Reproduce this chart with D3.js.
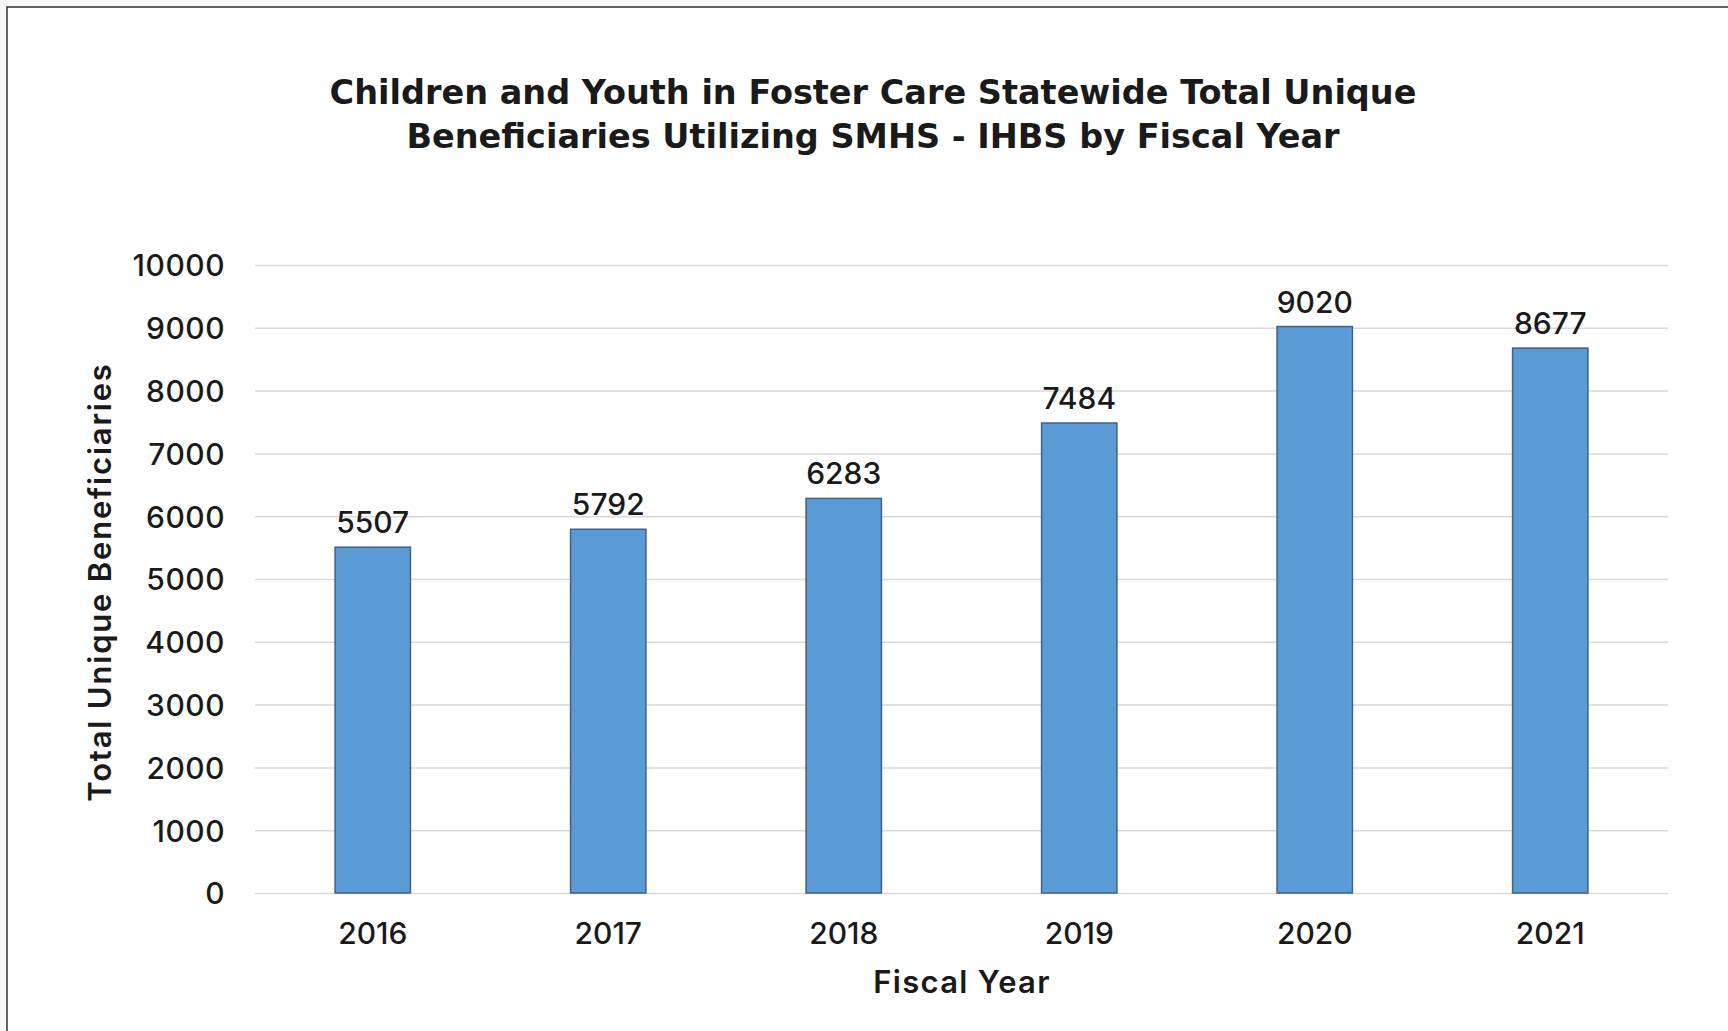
<!DOCTYPE html>
<html>
<style>
body {
    margin: 0;
    background-color: #f7f7f7;
}
text {
    font-family: Inter, "Open Sans", sans-serif;
    fill: #1a1a1a;
}
</style>
<head>
  <title>Foster Care IHBS</title>
</head>
<body>
  <script type="text/javascript" src="https://d3js.org/d3.v7.min.js" charset="utf-8"></script>
  <script type="text/javascript">
  'use strict'

  const w = 1728
  const h = 1031

  const years = ['2016', '2017', '2018', '2019', '2020', '2021']
  const beneficiaries = [5507, 5792, 6283, 7484, 9020, 8677]
  const yTicks = [0, 1000, 2000, 3000, 4000, 5000, 6000, 7000, 8000, 9000, 10000]
  const titleLines = [
    'Children and Youth in Foster Care Statewide Total Unique',
    'Beneficiaries Utilizing SMHS - IHBS by Fiscal Year'
  ]

  const margin = { top: 265, right: 60, bottom: 138, left: 255 }
  const plotW = w - margin.left - margin.right
  const plotH = h - margin.top - margin.bottom

  const svg = d3.select('body')
    .append('svg')
    .attr('width', w)
    .attr('height', h)
    .style('display', 'block')

  // white panel, frame drawn on top and left only
  svg.append('rect')
    .attr('x', 7).attr('y', 7)
    .attr('width', w).attr('height', h)
    .attr('fill', 'white')
  svg.append('path')
    .attr('d', `M7,${h} V7 H${w}`)
    .attr('fill', 'none')
    .attr('stroke', '#333')
    .attr('stroke-width', 1.5)

  const x = d3.scaleBand()
    .domain(years)
    .range([0, plotW])
    .paddingInner(0.68)
    .paddingOuter(0.34)

  const y = d3.scaleLinear()
    .domain([0, 10000])
    .range([plotH, 0])

  const g = svg.append('g')
    .attr('transform', `translate(${margin.left},${margin.top})`)

  // y axis + gridlines
  const yAxis = g.append('g')
    .call(d3.axisLeft(y).tickValues(yTicks).tickSize(-plotW).tickPadding(30).tickFormat(d3.format('d')))
  yAxis.select('.domain').remove()
  yAxis.selectAll('line').attr('stroke', '#d9d9d9').attr('stroke-width', 1.5)
  yAxis.selectAll('text')
    .attr('font-size', '30px')
    .attr('font-weight', 550)
    .attr('letter-spacing', '0.5px')
    .attr('dy', '0.36em')

  // x axis
  const xAxis = g.append('g')
    .attr('transform', `translate(0,${plotH})`)
    .call(d3.axisBottom(x).tickSize(0).tickPadding(30))
  xAxis.select('.domain').remove()
  xAxis.selectAll('text')
    .attr('font-size', '30px')
    .attr('font-weight', 550)

  // bars
  g.selectAll('rect.bar')
    .data(beneficiaries)
    .enter()
    .append('rect')
    .attr('class', 'bar')
    .attr('x', (d, i) => x(years[i]))
    .attr('y', d => y(d))
    .attr('width', x.bandwidth())
    .attr('height', d => plotH - y(d))
    .attr('fill', '#5b9bd5')
    .attr('stroke', '#41608a')
    .attr('stroke-width', 1.5)

  // value labels
  g.selectAll('text.val')
    .data(beneficiaries)
    .enter()
    .append('text')
    .attr('class', 'val')
    .text(d => d)
    .attr('x', (d, i) => x(years[i]) + x.bandwidth() / 2)
    .attr('y', d => y(d) - 14)
    .attr('text-anchor', 'middle')
    .attr('font-size', '30px')
    .attr('font-weight', 550)

  // title
  svg.append('text')
    .attr('text-anchor', 'middle')
    .style('font-family', '"DejaVu Sans", sans-serif')
    .attr('font-size', '33.5px')
    .attr('font-weight', 700)
    .selectAll('tspan')
    .data(titleLines)
    .enter()
    .append('tspan')
    .attr('x', 873)
    .attr('y', (d, i) => 104 + i * 44)
    .text(d => d)

  // axis titles
  svg.append('text')
    .attr('x', 962)
    .attr('y', 993)
    .attr('text-anchor', 'middle')
    .attr('font-size', '31px')
    .attr('font-weight', 600)
    .attr('letter-spacing', '1.3px')
    .text('Fiscal Year')

  svg.append('text')
    .attr('transform', 'translate(111,582) rotate(-90)')
    .attr('text-anchor', 'middle')
    .attr('font-size', '31px')
    .attr('font-weight', 600)
    .attr('letter-spacing', '1.8px')
    .text('Total Unique Beneficiaries')

  </script>
</body>
</html>
